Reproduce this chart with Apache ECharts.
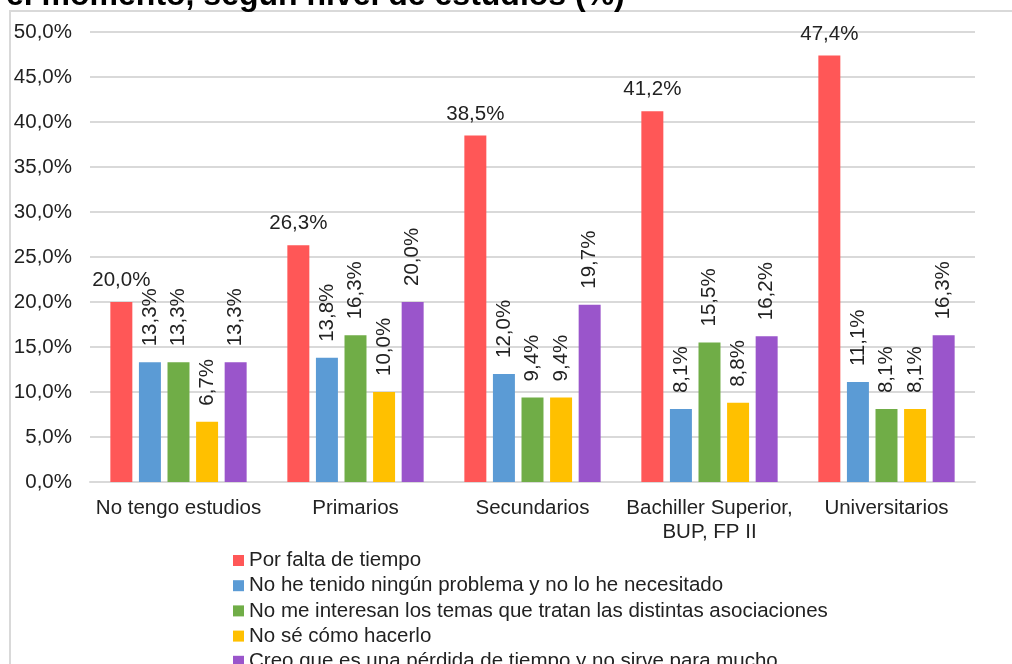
<!DOCTYPE html>
<html><head><meta charset="utf-8">
<script src="https://cdn.jsdelivr.net/npm/echarts@6/dist/echarts.min.js"></script>
<style>html,body{margin:0;padding:0;background:#fff}#c{width:1012px;height:664px}</style>
</head><body><div id="c"></div>
<script>
const titleText = 'el momento, según nivel de estudios (%)';
const categories = ['No tengo estudios', 'Primarios', 'Secundarios', 'Bachiller Superior,\nBUP, FP II', 'Universitarios'];
const seriesNames = [
  'Por falta de tiempo',
  'No he tenido ningún problema y no lo he necesitado',
  'No me interesan los temas que tratan las distintas asociaciones',
  'No sé cómo hacerlo',
  'Creo que es una pérdida de tiempo y no sirve para mucho'
];
const faltaTiempo = [20.0, 26.3, 38.5, 41.2, 47.4];
const sinProblema = [13.3, 13.8, 12.0, 8.1, 11.1];
const noInteresan = [13.3, 16.3, 9.4, 15.5, 8.1];
const noSe = [6.7, 10.0, 9.4, 8.8, 8.1];
const perdida = [13.3, 20.0, 19.7, 16.2, 16.3];
const colors = ['#FF5757', '#5B9BD5', '#70AD47', '#FFC000', '#9A55CB'];
const FONT = 'Liberation Sans, Arial, sans-serif';

const fmt = v => v.toFixed(1).replace('.', ',') + '%';
const allData = [faltaTiempo, sinProblema, noInteresan, noSe, perdida];

const series = allData.map((d, i) => ({
  name: seriesNames[i],
  type: 'bar',
  data: d,
  barGap: '30%',
  barCategoryGap: '23%',
  itemStyle: { color: colors[i] },
  label: i === 0 ? {
    show: true, position: 'top', distance: 11,
    formatter: p => fmt(p.value), fontSize: 20.5, fontFamily: FONT, color: '#222'
  } : {
    show: true, position: 'top', distance: 16, rotate: 90, align: 'left', verticalAlign: 'middle',
    formatter: p => fmt(p.value), fontSize: 20.5, fontFamily: FONT, color: '#222'
  }
}));

const chart = echarts.init(document.getElementById('c'), null, { renderer: 'canvas' });
chart.setOption({
  animation: false,
  backgroundColor: '#fff',
  textStyle: { fontFamily: FONT },
  graphic: [
    { type: 'rect', shape: { x: 10, y: 11, width: 1100, height: 1000 }, style: { fill: 'none', stroke: '#d9d9d9', lineWidth: 2 }, silent: true, z: -1 },
    { type: 'text', x: 6, y: 12, style: { text: titleText, font: 'bold 32px Liberation Sans, Arial, sans-serif', fill: '#000', verticalAlign: 'bottom' }, silent: true }
  ],
  grid: { left: 90, right: 37, top: 32, bottom: 182, containLabel: false },
  legend: {
    orient: 'vertical', left: 228, top: 545, height: 200,
    itemWidth: 11, itemHeight: 11, itemGap: 4.2, icon: 'rect',
    textStyle: { fontSize: 20.5, fontFamily: FONT, color: '#222', lineHeight: 20 },
    data: seriesNames
  },
  xAxis: {
    type: 'category', data: categories,
    axisLine: { lineStyle: { color: '#d9d9d9', width: 2 } },
    axisTick: { show: false },
    axisLabel: { fontSize: 20.5, fontFamily: FONT, color: '#222', margin: 14, lineHeight: 24, interval: 0 }
  },
  yAxis: {
    type: 'value', min: 0, max: 50, interval: 5,
    axisLine: { show: false }, axisTick: { show: false },
    splitLine: { lineStyle: { color: '#d9d9d9', width: 2 } },
    axisLabel: { fontSize: 20.5, fontFamily: FONT, color: '#222', margin: 18, formatter: v => fmt(v) }
  },
  series: series
});
</script></body></html>
